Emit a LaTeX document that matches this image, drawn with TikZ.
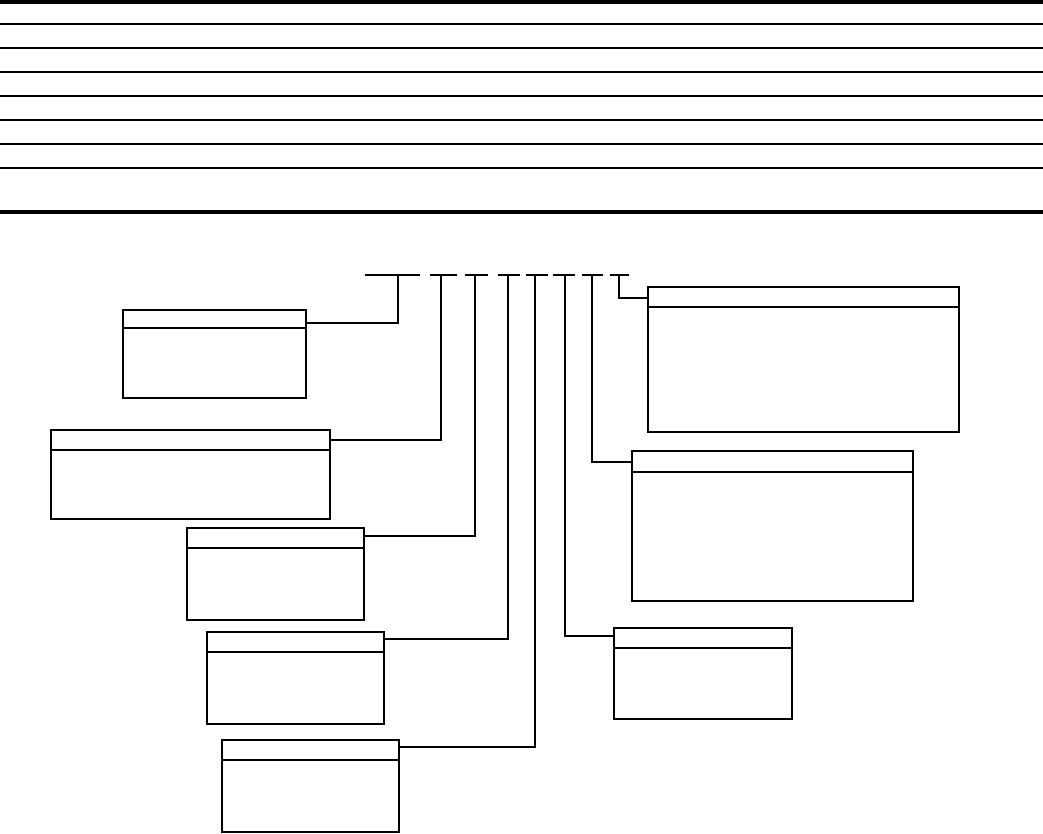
\documentclass[tikz,border=0pt]{standalone}
\usepackage{tikz}
\usetikzlibrary{positioning, calc}
\tikzset{
  field/.style={
    draw=black, line width=2.6pt, rectangle, anchor=north west,
    inner sep=0pt, outer sep=0pt, fill=white,
  },
  divider/.style={draw=black, line width=1.3pt},
  conn/.style={draw=black, line width=1.3pt},
  codebar/.style={draw=black, line width=2.2pt},
  rowline/.style={draw=black, line width=1.6pt},
  rulethick/.style={draw=black, line width=4pt},
}
\begin{document}
\begin{tikzpicture}[x=1pt, y=-1pt]
\useasboundingbox (0,0) rectangle (1043,833);

% table rules
\draw[rulethick] (0,2) -- (1043,2);
\foreach \yy in {24,48,72,96,120,144,168}
  \draw[rowline] (0,\yy) -- (1043,\yy);
\draw[rulethick] (0,211.5) -- (1043,211.5);

% code positions
\draw[codebar] (365,275) -- (420,275);
\draw[codebar] (430,275) -- (457,275);
\draw[codebar] (465,275) -- (488,275);
\draw[codebar] (498,275) -- (520,275);
\draw[codebar] (526,275) -- (548,275);
\draw[codebar] (553,275) -- (575,275);
\draw[codebar] (582,275) -- (603,275);
\draw[codebar] (610,275) -- (629,275);

\coordinate (t1) at (398,275);
\coordinate (t2) at (441,275);
\coordinate (t3) at (475,275);
\coordinate (t4) at (508,275);
\coordinate (t5) at (535,275);
\coordinate (t6) at (565,275);
\coordinate (t7) at (592,275);
\coordinate (t8) at (619,275);

% boxes
\node[field, minimum width=183pt, minimum height=88pt] (b1) at (123,310) {};
\node[field, minimum width=279pt, minimum height=89pt] (b2) at (51,430) {};
\node[field, minimum width=177pt, minimum height=92pt] (b3) at (187,528) {};
\node[field, minimum width=177pt, minimum height=92pt] (b4) at (207,632) {};
\node[field, minimum width=177pt, minimum height=92pt] (b5) at (222,740) {};
\node[field, minimum width=178pt, minimum height=91pt] (b6) at (614,628) {};
\node[field, minimum width=281pt, minimum height=150pt] (b7) at (632,451) {};
\node[field, minimum width=311pt, minimum height=145pt] (b8) at (648,287) {};

% header dividers
\foreach \b/\d in {b1/18,b2/20,b3/20,b4/20,b5/20,b6/20,b7/21,b8/20}
  \draw[divider] ([yshift=-\d pt]\b.north west) -- ([yshift=-\d pt]\b.north east);

% leaders
\draw[conn] (t1) |- ([yshift=-13pt]b1.north east);
\draw[conn] (t2) |- ([yshift=-10pt]b2.north east);
\draw[conn] (t3) |- ([yshift=-8pt]b3.north east);
\draw[conn] (t4) |- ([yshift=-7pt]b4.north east);
\draw[conn] (t5) |- ([yshift=-7pt]b5.north east);
\draw[conn] (t6) |- ([yshift=-8pt]b6.north west);
\draw[conn] (t7) |- ([yshift=-11pt]b7.north west);
\draw[conn] (t8) |- ([yshift=-11pt]b8.north west);

\end{tikzpicture}
\end{document}
